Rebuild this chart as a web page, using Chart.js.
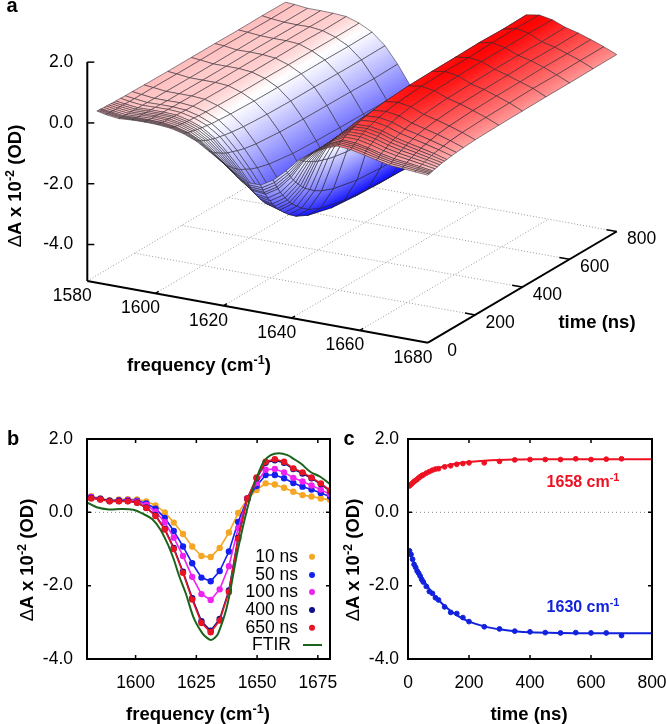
<!DOCTYPE html>
<html lang="en">
<head>
<meta charset="UTF-8">
<title>Time resolved difference spectra</title>
<style>
    body { margin: 0; background: #fff; font-family: "Liberation Sans", Arial, sans-serif; color: #000; }
    #page { position: relative; width: 666px; height: 724px; overflow: hidden; }
    canvas { position: absolute; }
    .lab { position: absolute; transform: translate(-50%, -50%); white-space: nowrap; font-weight: bold; font-size: 18.5px; line-height: 1; }
    .rot { transform: translate(-50%, -50%) rotate(-90deg); }
    .big { font-size: 20px; }
    .lab sup { font-size: 68%; line-height: 0; vertical-align: baseline; position: relative; top: -0.55em; }
    .lab i { font-style: normal; font-weight: normal; }
</style>
</head>
<body>
<div id="page">
    <canvas id="surfChart" width="666" height="400" style="left:0;top:0"></canvas>
    <canvas id="specChart" width="350" height="304" style="left:0;top:420px"></canvas>
    <canvas id="kinChart" width="326" height="304" style="left:340px;top:420px"></canvas>

    <div class="lab big" style="left:12px;top:5px">a</div>
    <div class="lab big" style="left:13px;top:438px">b</div>
    <div class="lab big" style="left:349px;top:438px">c</div>

    <div class="lab rot" style="left:15px;top:186px"><i>&Delta;</i>A x 10<sup>-2</sup> (OD)</div>
    <div class="lab" style="left:199px;top:365px">frequency (cm<sup>-1</sup>)</div>
    <div class="lab" style="left:597px;top:322px">time (ns)</div>

    <div class="lab rot" style="left:27px;top:560px"><i>&Delta;</i>A x 10<sup>-2</sup> (OD)</div>
    <div class="lab" style="left:198px;top:714px">frequency (cm<sup>-1</sup>)</div>

    <div class="lab rot" style="left:353px;top:560px"><i>&Delta;</i>A x 10<sup>-2</sup> (OD)</div>
    <div class="lab" style="left:529px;top:714px">time (ns)</div>
    <div class="lab" style="left:583px;top:482px;color:#ee1122;font-size:16px">1658 cm<sup>-1</sup></div>
    <div class="lab" style="left:583px;top:607px;color:#1122dd;font-size:16px">1630 cm<sup>-1</sup></div>
</div>

<script src="https://cdn.jsdelivr.net/npm/chart.js"></script>
<script>
    // panel b
    const specFreq = [1581.7,1585.5,1589.3,1593.1,1596.8,1600.6,1604.4,1608.2,1612,1615.7,1619.5,1623.3,1627.1,1630.9,1634.6,1638.4,1642.2,1646,1649.8,1653.5,1657.3,1661.1,1664.9,1668.7,1672.4,1676.2,1680];
    const spec10 = [.44,.38,.33,.35,.36,.35,.30,.19,.00,-.28,-.59,-.93,-1.19,-1.22,-.97,-.55,-.02,.36,.61,.79,.76,.67,.56,.47,.43,.38,.34];
    const spec50 = [.42,.37,.32,.33,.34,.32,.24,.10,-.15,-.51,-.93,-1.39,-1.78,-1.88,-1.60,-1.07,-.26,.37,.72,1.02,1.02,.93,.80,.70,.62,.53,.43];
    const spec100 = [.41,.36,.31,.32,.33,.30,.20,.02,-.27,-.69,-1.19,-1.76,-2.23,-2.39,-2.10,-1.47,-.43,.37,.80,1.16,1.18,1.09,.94,.84,.73,.62,.49];
    const spec400 = [.39,.36,.31,.31,.31,.27,.13,-.08,-.45,-.97,-1.62,-2.34,-2.97,-3.23,-2.91,-2.13,-.69,.38,.93,1.35,1.42,1.35,1.18,1.06,.93,.77,.58];
    const spec650 = [.38,.35,.30,.30,.30,.26,.12,-.10,-.47,-1.00,-1.65,-2.38,-3.02,-3.27,-2.95,-2.17,-.72,.38,.95,1.38,1.45,1.38,1.20,1.09,.95,.79,.60];
    const ftirFreq = [1580,1584,1589,1594,1599,1602.7,1606.9,1610.3,1613.7,1615.8,1618,1620.6,1624,1627.5,1629.5,1631,1632.5,1634,1637.6,1641.8,1644.5,1647.3,1650,1652.7,1655.6,1659,1662.5,1665,1668,1672,1676,1680];
    const ftirVal = [.27,.14,.08,.09,.07,-.03,-.19,-.48,-.94,-1.3,-1.75,-2.2,-2.89,-3.3,-3.43,-3.48,-3.43,-3.3,-2.57,-1.11,-.3,.43,.97,1.38,1.56,1.61,1.56,1.46,1.33,1.1,.97,.77];
    const specFreqTicks = [1600, 1625, 1650, 1675];
    const specNames = ['10 ns', '50 ns', '100 ns', '400 ns', '650 ns'];

    // panel a: surface table, one row per delay, one column per frequency
    const surfFreq = [1582.8,1585.5,1589.3,1593.1,1596.8,1600.6,1604.4,1608.2,1612,1615.7,1619.5,1623.3,1627.1,1630.9,1634.6,1638.4,1642.2,1646,1649.8,1653.5,1657.3,1661.1,1664.9,1668.7,1672.4,1676.2,1680];
    const surfTime = [0, 5, 10, 15, 20, 30, 40, 50, 60, 70, 80, 100, 120, 150, 200, 300, 400, 500, 600, 700, 800];
    const surfZ = [
        [.45,.38,.33,.36,.37,.36,.32,.22,.05,-.21,-.48,-.78,-1.01,-1.01,-.77,-.39,.05,.36,.58,.73,.69,.60,.50,.41,.38,.34,.31],
        [.44,.38,.33,.35,.36,.35,.31,.20,.02,-.24,-.54,-.86,-1.10,-1.12,-.87,-.47,.02,.36,.59,.76,.73,.63,.53,.44,.40,.36,.33],
        [.44,.38,.33,.35,.36,.35,.30,.19,.00,-.28,-.59,-.93,-1.19,-1.22,-.97,-.55,-.02,.36,.61,.79,.76,.67,.56,.47,.43,.38,.34],
        [.44,.38,.33,.35,.36,.35,.29,.18,-.02,-.32,-.64,-1.00,-1.28,-1.32,-1.07,-.63,-.05,.36,.63,.82,.79,.71,.59,.50,.46,.40,.35],
        [.43,.38,.33,.35,.35,.34,.28,.16,-.04,-.34,-.69,-1.06,-1.35,-1.40,-1.15,-.70,-.08,.36,.64,.84,.82,.73,.62,.53,.48,.42,.36],
        [.43,.37,.32,.34,.35,.33,.27,.14,-.08,-.40,-.77,-1.18,-1.50,-1.57,-1.31,-.83,-.14,.36,.67,.89,.88,.79,.67,.58,.52,.45,.38],
        [.43,.37,.32,.34,.35,.33,.26,.12,-.11,-.45,-.84,-1.28,-1.63,-1.71,-1.45,-.94,-.19,.36,.69,.93,.93,.84,.71,.62,.55,.48,.40],
        [.42,.37,.32,.33,.34,.32,.24,.10,-.15,-.50,-.92,-1.38,-1.76,-1.86,-1.58,-1.05,-.24,.37,.72,.97,.97,.89,.76,.66,.59,.51,.42],
        [.42,.37,.32,.33,.34,.32,.23,.08,-.17,-.55,-.98,-1.47,-1.87,-1.98,-1.70,-1.15,-.28,.37,.74,1.01,1.02,.93,.80,.70,.62,.53,.44],
        [.41,.37,.32,.33,.33,.31,.22,.07,-.20,-.59,-1.05,-1.55,-1.98,-2.10,-1.82,-1.25,-.32,.37,.76,1.04,1.06,.98,.84,.74,.65,.56,.45],
        [.41,.37,.32,.33,.33,.31,.21,.05,-.23,-.63,-1.10,-1.63,-2.07,-2.20,-1.92,-1.33,-.36,.37,.77,1.07,1.09,1.01,.87,.77,.68,.58,.46],
        [.41,.36,.31,.32,.33,.30,.20,.03,-.26,-.68,-1.18,-1.74,-2.21,-2.37,-2.08,-1.46,-.41,.37,.80,1.12,1.15,1.07,.92,.82,.72,.61,.49],
        [.40,.36,.31,.32,.32,.29,.18,.00,-.30,-.74,-1.27,-1.86,-2.36,-2.53,-2.24,-1.59,-.47,.37,.83,1.17,1.20,1.12,.97,.87,.76,.64,.51],
        [.40,.36,.31,.31,.32,.28,.17,-.02,-.34,-.81,-1.36,-1.99,-2.53,-2.72,-2.42,-1.73,-.53,.38,.86,1.22,1.26,1.19,1.03,.92,.81,.68,.53],
        [.39,.36,.31,.31,.31,.28,.15,-.05,-.39,-.88,-1.47,-2.13,-2.71,-2.92,-2.61,-1.89,-.60,.38,.89,1.28,1.33,1.26,1.09,.98,.86,.72,.56],
        [.38,.35,.30,.30,.30,.27,.13,-.08,-.44,-.95,-1.58,-2.28,-2.89,-3.13,-2.81,-2.06,-.67,.38,.93,1.34,1.40,1.33,1.16,1.05,.91,.76,.58],
        [.38,.35,.30,.30,.30,.26,.13,-.09,-.46,-.98,-1.62,-2.34,-2.97,-3.21,-2.89,-2.12,-.70,.38,.94,1.36,1.43,1.36,1.18,1.07,.93,.78,.59],
        [.38,.36,.30,.31,.30,.26,.12,-.10,-.46,-.99,-1.64,-2.36,-3.00,-3.25,-2.93,-2.15,-.71,.37,.95,1.37,1.43,1.38,1.20,1.08,.94,.80,.60],
        [.37,.35,.31,.30,.30,.27,.12,-.10,-.47,-1.00,-1.65,-2.38,-3.02,-3.27,-2.95,-2.17,-.72,.38,.96,1.39,1.46,1.37,1.20,1.10,.96,.79,.60],
        [.38,.34,.30,.29,.30,.25,.11,-.11,-.48,-1.02,-1.67,-2.40,-3.05,-3.30,-2.97,-2.19,-.73,.38,.95,1.37,1.47,1.39,1.19,1.09,.95,.80,.61],
        [.37,.35,.30,.30,.29,.26,.12,-.10,-.47,-1.00,-1.65,-2.38,-3.02,-3.28,-2.95,-2.17,-.72,.39,.96,1.39,1.46,1.38,1.21,1.10,.96,.80,.62]
    ];
    const surfFreqTicks = [1580, 1600, 1620, 1640, 1660, 1680];
    const surfTimeTicks = [0, 200, 400, 600, 800];
    const surfZTicks = [2, 0, -2, -4];

    // panel c
    const kinTime = [5,10,15,20,25,30,35,40,45,50,60,70,80,90,100,120,140,160,180,200,250,300,350,400,450,500,550,600,650,700];
    const kin1658 = [.72,.76,.80,.84,.87,.90,.94,.97,1.00,1.02,1.07,1.11,1.15,1.18,1.19,1.24,1.27,1.31,1.33,1.35,1.35,1.39,1.43,1.44,1.44,1.44,1.46,1.44,1.45,1.46];
    const kin1630 = [-1.05,-1.15,-1.28,-1.42,-1.50,-1.60,-1.66,-1.74,-1.83,-1.90,-2.02,-2.16,-2.21,-2.33,-2.39,-2.58,-2.73,-2.76,-2.87,-2.98,-3.12,-3.18,-3.24,-3.26,-3.28,-3.29,-3.28,-3.29,-3.29,-3.36];
    const fitTime = [0,10,20,30,40,50,60,80,100,125,150,175,200,250,300,350,400,500,600,700,800];
    const fit1658 = [.68,.76,.84,.91,.97,1.03,1.08,1.15,1.21,1.27,1.32,1.35,1.375,1.41,1.43,1.44,1.445,1.45,1.45,1.45,1.45];
    const fit1630 = [-1.0,-1.2,-1.38,-1.55,-1.70,-1.84,-1.97,-2.2,-2.39,-2.59,-2.75,-2.88,-2.98,-3.11,-3.19,-3.24,-3.27,-3.29,-3.3,-3.3,-3.3];

    const TICK_FONT = { family: '"Liberation Sans", Arial, sans-serif', size: 17.5 };
    const FLOOR = -5.2;

    // fixed orthographic view of (frequency, time, dA) onto the panel a canvas
    function project(f, t, z) {
        return {
            x: 87.3 + (f - 1580) * 3.407 + t * 0.2359,
            y: 281 + (f - 1580) * 0.617 - t * 0.139 - (z - FLOOR) * 30.4
        };
    }

    function palette(z) {
        if (z >= 0) {
            const k = Math.round(255 * (1 - Math.min(z / 1.45, 1)));
            return `rgb(255,${k},${k})`;
        }
        const k = Math.round(255 * (1 - Math.min(-z / 3.1, 1)));
        return `rgb(${k},${k},255)`;
    }

    const surfCtx = document.getElementById('surfChart').getContext('2d');

    // gradient along the quad's colour slope on screen, so neighbouring cells meet smoothly
    function quadFill(corners) {
        const p = corners.map(c => project(c.f, c.t, c.z));
        const z = corners.map(c => c.z);
        const lo = Math.min(...z), hi = Math.max(...z);
        const zc = (z[0] + z[1] + z[2] + z[3]) / 4;
        if (hi - lo < 0.005) return palette(zc);
        const ux = (p[1].x - p[0].x + p[2].x - p[3].x) / 2, uy = (p[1].y - p[0].y + p[2].y - p[3].y) / 2;
        const vx = (p[3].x - p[0].x + p[2].x - p[1].x) / 2, vy = (p[3].y - p[0].y + p[2].y - p[1].y) / 2;
        const du = (z[1] - z[0] + z[2] - z[3]) / 2, dv = (z[3] - z[0] + z[2] - z[1]) / 2;
        const det = ux * vy - uy * vx;
        let grad;
        if (Math.abs(det) < 2) {
            const a = p[z.indexOf(lo)], b = p[z.indexOf(hi)];
            grad = surfCtx.createLinearGradient(a.x, a.y, b.x, b.y);
        } else {
            const gx = (du * vy - dv * uy) / det, gy = (ux * dv - vx * du) / det;
            const g2 = gx * gx + gy * gy;
            // saddle cell with no net slope: a flat colour will do
            if (g2 < 1e-6) return palette(zc);
            const cx = (p[0].x + p[1].x + p[2].x + p[3].x) / 4, cy = (p[0].y + p[1].y + p[2].y + p[3].y) / 4;
            grad = surfCtx.createLinearGradient(
                cx + gx * (lo - zc) / g2, cy + gy * (lo - zc) / g2,
                cx + gx * (hi - zc) / g2, cy + gy * (hi - zc) / g2
            );
        }
        grad.addColorStop(0, palette(lo));
        if (lo < 0 && hi > 0) grad.addColorStop(-lo / (hi - lo), '#fff');
        grad.addColorStop(1, palette(hi));
        return grad;
    }

    function path(points, color, width, dash) {
        return { data: points, showLine: true, fill: false, borderColor: color, borderWidth: width, borderDash: dash || [] };
    }

    // chart.js paints the last dataset first, so nearest quads go in first
    const surfSets = [];
    for (let i = 0; i < surfTime.length - 1; i++) {
        for (let j = surfFreq.length - 2; j >= 0; j--) {
            const corners = [
                { f: surfFreq[j], t: surfTime[i], z: surfZ[i][j] },
                { f: surfFreq[j + 1], t: surfTime[i], z: surfZ[i][j + 1] },
                { f: surfFreq[j + 1], t: surfTime[i + 1], z: surfZ[i + 1][j + 1] },
                { f: surfFreq[j], t: surfTime[i + 1], z: surfZ[i + 1][j] }
            ];
            const pts = corners.map(c => project(c.f, c.t, c.z));
            pts.push(pts[0]);
            surfSets.push({
                data: pts,
                showLine: true,
                fill: 'shape',
                backgroundColor: quadFill(corners),
                borderColor: 'rgba(40,35,45,0.68)',
                borderWidth: 0.8
            });
        }
    }

    // axes and tick marks
    const fMin = surfFreqTicks[0], fMax = surfFreqTicks[surfFreqTicks.length - 1];
    const tMax = surfTimeTicks[surfTimeTicks.length - 1];
    surfSets.push(path([project(fMin, 0, 2), project(fMin, 0, FLOOR)], '#000', 2));
    surfSets.push(path([project(fMin, 0, FLOOR), project(fMax, 0, FLOOR)], '#000', 2));
    surfSets.push(path([project(fMax, 0, FLOOR), project(fMax, tMax, FLOOR)], '#000', 2));
    surfZTicks.forEach(z => {
        const p = project(fMin, 0, z);
        surfSets.push(path([p, { x: p.x + 7, y: p.y }], '#000', 1.5));
    });
    surfFreqTicks.slice(1, -1).forEach(f => {
        surfSets.push(path([project(f, 0, FLOOR), project(f, 14, FLOOR)], '#000', 1.5));
    });
    surfTimeTicks.slice(1).forEach(t => {
        surfSets.push(path([project(fMax, t, FLOOR), project(fMax - 3, t, FLOOR)], '#000', 1.5));
    });

    // dotted floor grid
    surfFreqTicks.slice(0, -1).forEach(f => {
        surfSets.push(path([project(f, 0, FLOOR), project(f, tMax, FLOOR)], '#9a9a9a', 1, [1, 2]));
    });
    surfTimeTicks.slice(1).forEach(t => {
        surfSets.push(path([project(fMin, t, FLOOR), project(fMax, t, FLOOR)], '#9a9a9a', 1, [1, 2]));
    });

    const surfLabels = {
        id: 'surfLabels',
        afterDraw(chart) {
            const { ctx, scales } = chart;
            const put = (txt, p, dx, dy, align) => {
                ctx.textAlign = align;
                ctx.fillText(txt, scales.x.getPixelForValue(p.x) + dx, scales.y.getPixelForValue(p.y) + dy);
            };
            ctx.save();
            ctx.fillStyle = '#000';
            ctx.font = '17.5px "Liberation Sans", Arial, sans-serif';
            ctx.textBaseline = 'middle';
            surfZTicks.forEach(z => put(z.toFixed(1), project(fMin, 0, z), -14, 0, 'right'));
            surfFreqTicks.forEach(f => put(String(f), project(f, 0, FLOOR), -15, 15, 'center'));
            surfTimeTicks.forEach(t => put(String(t), project(fMax, t, FLOOR), t < 100 ? 24 : 25, 8, 'center'));
            ctx.restore();
        }
    };

    new Chart(surfCtx, {
        type: 'scatter',
        data: { datasets: surfSets },
        options: {
            responsive: false,
            animation: false,
            events: [],
            layout: { padding: 0 },
            elements: { point: { radius: 0 }, line: { tension: 0 } },
            plugins: { legend: { display: false }, tooltip: { enabled: false } },
            scales: {
                x: { display: false, min: 0, max: 666 },
                y: { display: false, min: 0, max: 400, reverse: true }
            }
        },
        plugins: [surfLabels]
    });

    // black frame with short inward ticks on all four sides
    const frame = {
        id: 'frame',
        afterDatasetsDraw(chart) {
            const { ctx, chartArea: a, scales } = chart;
            ctx.save();
            ctx.strokeStyle = '#000';
            ctx.lineWidth = 1.5;
            ctx.beginPath();
            scales.x.ticks.forEach(tk => {
                const x = scales.x.getPixelForValue(tk.value);
                ctx.moveTo(x, a.top); ctx.lineTo(x, a.top + 4);
                ctx.moveTo(x, a.bottom); ctx.lineTo(x, a.bottom - 4);
            });
            scales.y.ticks.forEach(tk => {
                const y = scales.y.getPixelForValue(tk.value);
                ctx.moveTo(a.left, y); ctx.lineTo(a.left + 4, y);
                ctx.moveTo(a.right, y); ctx.lineTo(a.right - 4, y);
            });
            ctx.stroke();
            ctx.lineWidth = 2;
            ctx.strokeRect(a.left, a.top, a.right - a.left, a.bottom - a.top);
            ctx.restore();
        }
    };

    function xyPairs(xs, ys) {
        return xs.map((x, i) => ({ x: x, y: ys[i] }));
    }

    // no label overhang padding, the plot box stays where it is put
    function noOverhang(s) {
        s.paddingLeft = s.paddingRight = s.paddingTop = s.paddingBottom = 0;
    }

    function panelScales(xMin, xMax, yGap, yWidth, xExtra, xTickExtra) {
        return {
            x: Object.assign({
                type: 'linear', min: xMin, max: xMax,
                grid: { display: false, drawTicks: false },
                border: { display: false },
                ticks: Object.assign({ font: TICK_FONT, color: '#000', padding: 14, autoSkip: false, maxRotation: 0, callback: v => String(v) }, xTickExtra),
                afterFit: s => { s.height = 65; noOverhang(s); }
            }, xExtra),
            y: {
                min: -4, max: 2,
                grid: { display: false, drawTicks: false },
                border: { display: false },
                ticks: { font: TICK_FONT, color: '#000', padding: yGap, stepSize: 2, callback: v => v.toFixed(1) },
                afterFit: s => { s.width = yWidth; noOverhang(s); }
            }
        };
    }

    // panel b
    const specColors = ['#f5a623', '#1420ee', '#f022ee', '#10108c', '#e81424'];
    const specRows = [spec10, spec50, spec100, spec400, spec650];
    const FTIR_COLOR = '#1b641b';
    const specSets = specRows.map((vals, i) => ({
        label: specNames[i],
        data: xyPairs(specFreq, vals),
        showLine: true,
        borderColor: specColors[i],
        backgroundColor: specColors[i],
        borderWidth: 1.6,
        pointRadius: 2.4,
        tension: 0,
        order: 10 - i
    }));
    specSets.push({
        label: 'FTIR',
        data: xyPairs(ftirFreq, ftirVal),
        showLine: true,
        borderColor: FTIR_COLOR,
        borderWidth: 2,
        pointRadius: 0,
        tension: 0.35,
        order: 1
    });
    specSets.push({
        data: xyPairs([1580, 1680], [0, 0]),
        showLine: true,
        borderColor: '#888',
        borderWidth: 1,
        borderDash: [1, 3],
        pointRadius: 0,
        order: 20
    });

    const specLegend = {
        id: 'specLegend',
        afterDraw(chart) {
            const { ctx } = chart;
            const rowY = [136.7, 155, 172, 190, 207.7];
            ctx.save();
            ctx.font = '17.5px "Liberation Sans", Arial, sans-serif';
            ctx.textBaseline = 'middle';
            ctx.textAlign = 'right';
            specNames.forEach((name, i) => {
                ctx.fillStyle = '#000';
                ctx.fillText(name, 298, rowY[i]);
                ctx.fillStyle = specColors[i];
                ctx.beginPath();
                ctx.arc(312, rowY[i], 3, 0, Math.PI * 2);
                ctx.fill();
            });
            ctx.fillStyle = '#000';
            ctx.fillText('FTIR', 291, 225);
            ctx.strokeStyle = FTIR_COLOR;
            ctx.lineWidth = 2;
            ctx.beginPath();
            ctx.moveTo(303, 225);
            ctx.lineTo(322, 225);
            ctx.stroke();
            ctx.restore();
        }
    };

    new Chart(document.getElementById('specChart'), {
        type: 'scatter',
        data: { datasets: specSets },
        options: {
            responsive: false,
            animation: false,
            events: [],
            layout: { padding: { top: 19, right: 20, left: 0, bottom: 0 } },
            plugins: { legend: { display: false }, tooltip: { enabled: false } },
            scales: panelScales(1580, 1680, 14, 87, {
                afterBuildTicks: s => { s.ticks = specFreqTicks.map(v => ({ value: v })); }
            }, {})
        },
        plugins: [frame, specLegend]
    });

    // panel c
    const RED = '#ee1122', BLUE = '#1122dd';
    const kinSets = [
        { data: xyPairs(fitTime, fit1658), showLine: true, borderColor: RED, borderWidth: 2, pointRadius: 0, tension: 0.3, order: 2 },
        { data: xyPairs(kinTime, kin1658), showLine: false, backgroundColor: RED, borderColor: RED, pointRadius: 2.4, order: 3 },
        { data: xyPairs(fitTime, fit1630), showLine: true, borderColor: BLUE, borderWidth: 2, pointRadius: 0, tension: 0.3, order: 2 },
        { data: xyPairs(kinTime, kin1630), showLine: false, backgroundColor: BLUE, borderColor: BLUE, pointRadius: 2.4, order: 3 },
        { data: xyPairs([0, 800], [0, 0]), showLine: true, borderColor: '#888', borderWidth: 1, borderDash: [1, 3], pointRadius: 0, order: 5 }
    ];

    new Chart(document.getElementById('kinChart'), {
        type: 'scatter',
        data: { datasets: kinSets },
        options: {
            responsive: false,
            animation: false,
            events: [],
            layout: { padding: { top: 19, right: 14, left: 0, bottom: 0 } },
            plugins: { legend: { display: false }, tooltip: { enabled: false } },
            scales: panelScales(0, 800, 9, 68, {}, { stepSize: 200 })
        },
        plugins: [frame]
    });
</script>
</body>
</html>
